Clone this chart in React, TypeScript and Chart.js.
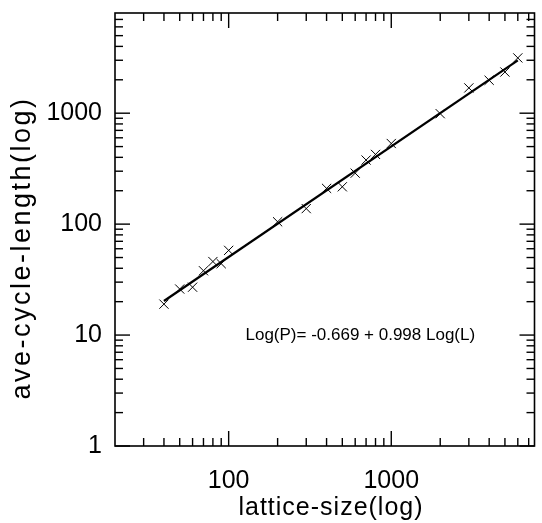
import React, { useEffect, useRef } from "react";
import { Chart, registerables } from "chart.js";

Chart.register(...registerables);

// measured data: lattice size (L) vs average cycle length (P)
const latticeSize = [40, 50, 60, 70, 80, 90, 100, 200, 300, 400, 500, 600, 700, 800, 1000, 2000, 3000, 4000, 5000, 6000];
const cycleLength = [19, 26, 27, 38, 46, 44, 58, 105, 138, 210, 217, 288, 378, 425, 533, 990, 1690, 1980, 2350, 3150];

// fitted line end points
const fitX = [40, 6000];
const fitY = [20.3, 2990];

// axis ranges and ticks
const xRange = [20, 7600];
const yRange = [1, 8000];
const xMajorTicks = [100, 1000];
const xMinorTicks = [30, 40, 50, 60, 70, 80, 90, 200, 300, 400, 500, 600, 700, 800, 900, 2000, 3000, 4000, 5000, 6000, 7000];
const yMajorTicks = [1, 10, 100, 1000];
const yMinorTicks = [2, 3, 4, 5, 6, 7, 8, 9, 20, 30, 40, 50, 60, 70, 80, 90, 200, 300, 400, 500, 600, 700, 800, 900, 2000, 3000, 4000, 5000, 6000, 7000];

const xTitle = "lattice-size(log)";
const yTitle = "ave-cycle-length(log)";
const equationText = "Log(P)= -0.669 + 0.998 Log(L)";
const equationAt = [645, 10];

const FONT = '"Liberation Sans", Arial, Helvetica, sans-serif';

const framePlugin = {
  id: "frameTicks",
  afterDraw(chart: any) {
    const { ctx, chartArea: a, scales } = chart;
    const xs = scales.x;
    const ys = scales.y;
    ctx.save();
    ctx.strokeStyle = "#000";
    ctx.lineWidth = 1.6;
    ctx.strokeRect(a.left, a.top, a.right - a.left, a.bottom - a.top);
    ctx.lineWidth = 1.4;
    const seg = (x1: number, y1: number, x2: number, y2: number) => {
      ctx.beginPath();
      ctx.moveTo(x1, y1);
      ctx.lineTo(x2, y2);
      ctx.stroke();
    };
    const MAJ = 15;
    const MIN = 8;
    for (const v of xMajorTicks) {
      const p = xs.getPixelForValue(v);
      seg(p, a.bottom, p, a.bottom - MAJ);
      seg(p, a.top, p, a.top + MAJ);
    }
    for (const v of xMinorTicks) {
      const p = xs.getPixelForValue(v);
      seg(p, a.bottom, p, a.bottom - MIN);
      seg(p, a.top, p, a.top + MIN);
    }
    for (const v of yMajorTicks) {
      const p = ys.getPixelForValue(v);
      seg(a.left, p, a.left + MAJ, p);
      seg(a.right, p, a.right - MAJ, p);
    }
    for (const v of yMinorTicks) {
      const p = ys.getPixelForValue(v);
      seg(a.left, p, a.left + MIN, p);
      seg(a.right, p, a.right - MIN, p);
    }

    ctx.fillStyle = "#000";
    ctx.textAlign = "center";
    ctx.textBaseline = "alphabetic";
    ctx.font = `25px ${FONT}`;
    (ctx as any).letterSpacing = "1px";
    ctx.fillText(xTitle, 331, 515);

    ctx.save();
    ctx.translate(30, 248);
    ctx.rotate(-Math.PI / 2);
    ctx.font = `27px ${FONT}`;
    (ctx as any).letterSpacing = "2.5px";
    ctx.fillText(yTitle, 0, 0);
    ctx.restore();

    (ctx as any).letterSpacing = "0px";
    ctx.font = `17px ${FONT}`;
    ctx.textBaseline = "middle";
    ctx.fillText(equationText, xs.getPixelForValue(equationAt[0]), ys.getPixelForValue(equationAt[1]));
    ctx.restore();
  },
};

export default function App() {
  const ref = useRef<HTMLCanvasElement | null>(null);
  useEffect(() => {
    if (!ref.current) return;
    const chart = new Chart(ref.current, {
      type: "scatter",
      data: {
        datasets: [
          {
            label: "fit",
            data: fitX.map((x, i) => ({ x, y: fitY[i] })),
            showLine: true,
            borderColor: "#000",
            borderWidth: 2.3,
            pointRadius: 0,
          },
          {
            label: "data",
            data: latticeSize.map((x, i) => ({ x, y: cycleLength[i] })),
            pointStyle: "crossRot",
            pointRadius: 6.5,
            borderColor: "#000",
            backgroundColor: "#000",
            borderWidth: 1,
            showLine: false,
          },
        ],
      },
      options: {
        responsive: false,
        animation: false,
        events: [],
        layout: { padding: { top: 13, right: 3, left: 0, bottom: 0 } },
        plugins: { legend: { display: false }, tooltip: { enabled: false } },
        scales: {
          x: {
            type: "logarithmic",
            min: xRange[0],
            max: xRange[1],
            grid: { display: false, drawTicks: false },
            border: { display: false },
            afterBuildTicks: (s: any) => {
              s.ticks = xMajorTicks.map((v) => ({ value: v }));
            },
            afterFit: (s: any) => {
              s.height = 77;
              s.paddingLeft = 0;
              s.paddingRight = 0;
            },
            ticks: {
              color: "#000",
              padding: 20,
              maxRotation: 0,
              autoSkip: false,
              font: { family: FONT, size: 25 },
              callback: (v: any) => String(v),
            },
          },
          y: {
            type: "logarithmic",
            min: yRange[0],
            max: yRange[1],
            grid: { display: false, drawTicks: false },
            border: { display: false },
            afterBuildTicks: (s: any) => {
              s.ticks = yMajorTicks.map((v) => ({ value: v }));
            },
            afterFit: (s: any) => {
              s.width = 115;
              s.paddingTop = 0;
              s.paddingBottom = 0;
            },
            ticks: {
              color: "#000",
              padding: 13,
              autoSkip: false,
              font: { family: FONT, size: 25 },
              callback: (v: any) => String(v),
            },
          },
        },
      },
      plugins: [framePlugin],
    });
    return () => chart.destroy();
  }, []);
  return (
    <div style={{ position: "absolute", left: 0, top: 0, width: 542, height: 523, background: "#fff" }}>
      <canvas ref={ref} width={542} height={523} style={{ display: "block" }} />
    </div>
  );
}
